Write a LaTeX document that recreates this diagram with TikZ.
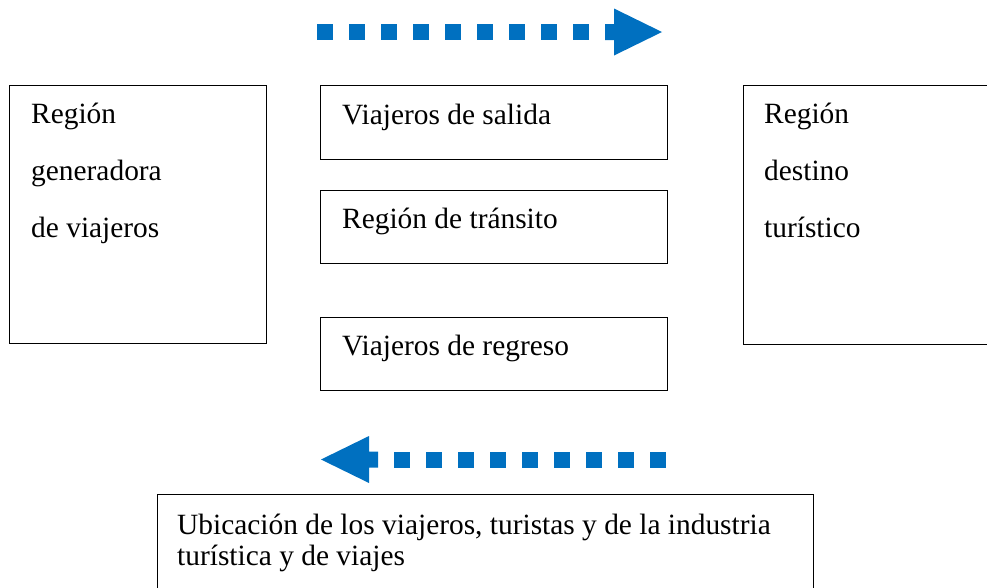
\documentclass[tikz,border=0pt]{standalone}
\usepackage{fontspec}
\setmainfont{Liberation Serif}
\definecolor{flowblue}{HTML}{0070C0}

\tikzset{
  box/.style={draw, line width=1pt, anchor=north west, inner sep=0pt},
  txt/.style={anchor=base west, inner sep=0pt, font=\fontsize{29.4}{32}\selectfont},
  sq/.style={fill=flowblue, draw=none},
}

\begin{document}
\begin{tikzpicture}[x=1pt, y=-1pt]

    \useasboundingbox (0,0) rectangle (987,587);
    \clip (0,0) rectangle (987,587);

    \node[box, minimum width=257pt, minimum height=258pt] (gen) at (9,85) {};
    \node[box, minimum width=347pt, minimum height=74pt] (sal) at (320,85) {};
    \node[box, minimum width=347pt, minimum height=73pt] (tra) at (320,190) {};
    \node[box, minimum width=347pt, minimum height=73pt] (reg) at (320,317) {};
    \node[box, minimum width=300pt, minimum height=259pt] (des) at (743,85) {};
    \node[box, minimum width=656pt, minimum height=120pt] (ubi) at (157,494) {};

    \node[txt] (gen1) at (31,123) {Región};
    \node[txt] (gen2) at (31,180) {generadora};
    \node[txt] (gen3) at (31,237) {de viajeros};
    \node[txt] (salt) at (342,124) {Viajeros de salida};
    \node[txt] (trat) at (342,228) {Región de tránsito};
    \node[txt] (regt) at (342,355) {Viajeros de regreso};
    \node[txt] (des1) at (764,123) {Región};
    \node[txt] (des2) at (764,180) {destino};
    \node[txt] (des3) at (764,237) {turístico};
    \node[txt] (ubi1) at (177,534) {Ubicación de los viajeros, turistas y de la industria};
    \node[txt] (ubi2) at (177,565) {turística y de viajes};

    % flujo de salida
    \coordinate (outS) at (317,32);
    \coordinate (outT) at (662,32);
    \foreach \i in {0,...,8}
      \fill[sq] ([xshift=32*\i pt]outS) ++(0,-8) rectangle ++(16,16);
    \fill[sq] ([xshift=-57pt]outT) ++(0,-8) -- ++(9,0) -- ++(0,-15.5)
      -- (outT) -- ([xshift=-48pt, yshift=-23.5pt]outT) -- ++(0,-15.5) -- ++(-9,0) -- cycle;

    % flujo de regreso
    \coordinate (inS) at (666,459.5);
    \coordinate (inT) at (321,459.5);
    \foreach \i in {0,...,8}
      \fill[sq] ([xshift=-32*\i pt]inS) ++(0,-8) rectangle ++(-16,16);
    \fill[sq] ([xshift=57pt]inT) ++(0,-8) -- ++(-9,0) -- ++(0,-15.5)
      -- (inT) -- ([xshift=48pt, yshift=-23.5pt]inT) -- ++(0,-15.5) -- ++(9,0) -- cycle;

\end{tikzpicture}
\end{document}
